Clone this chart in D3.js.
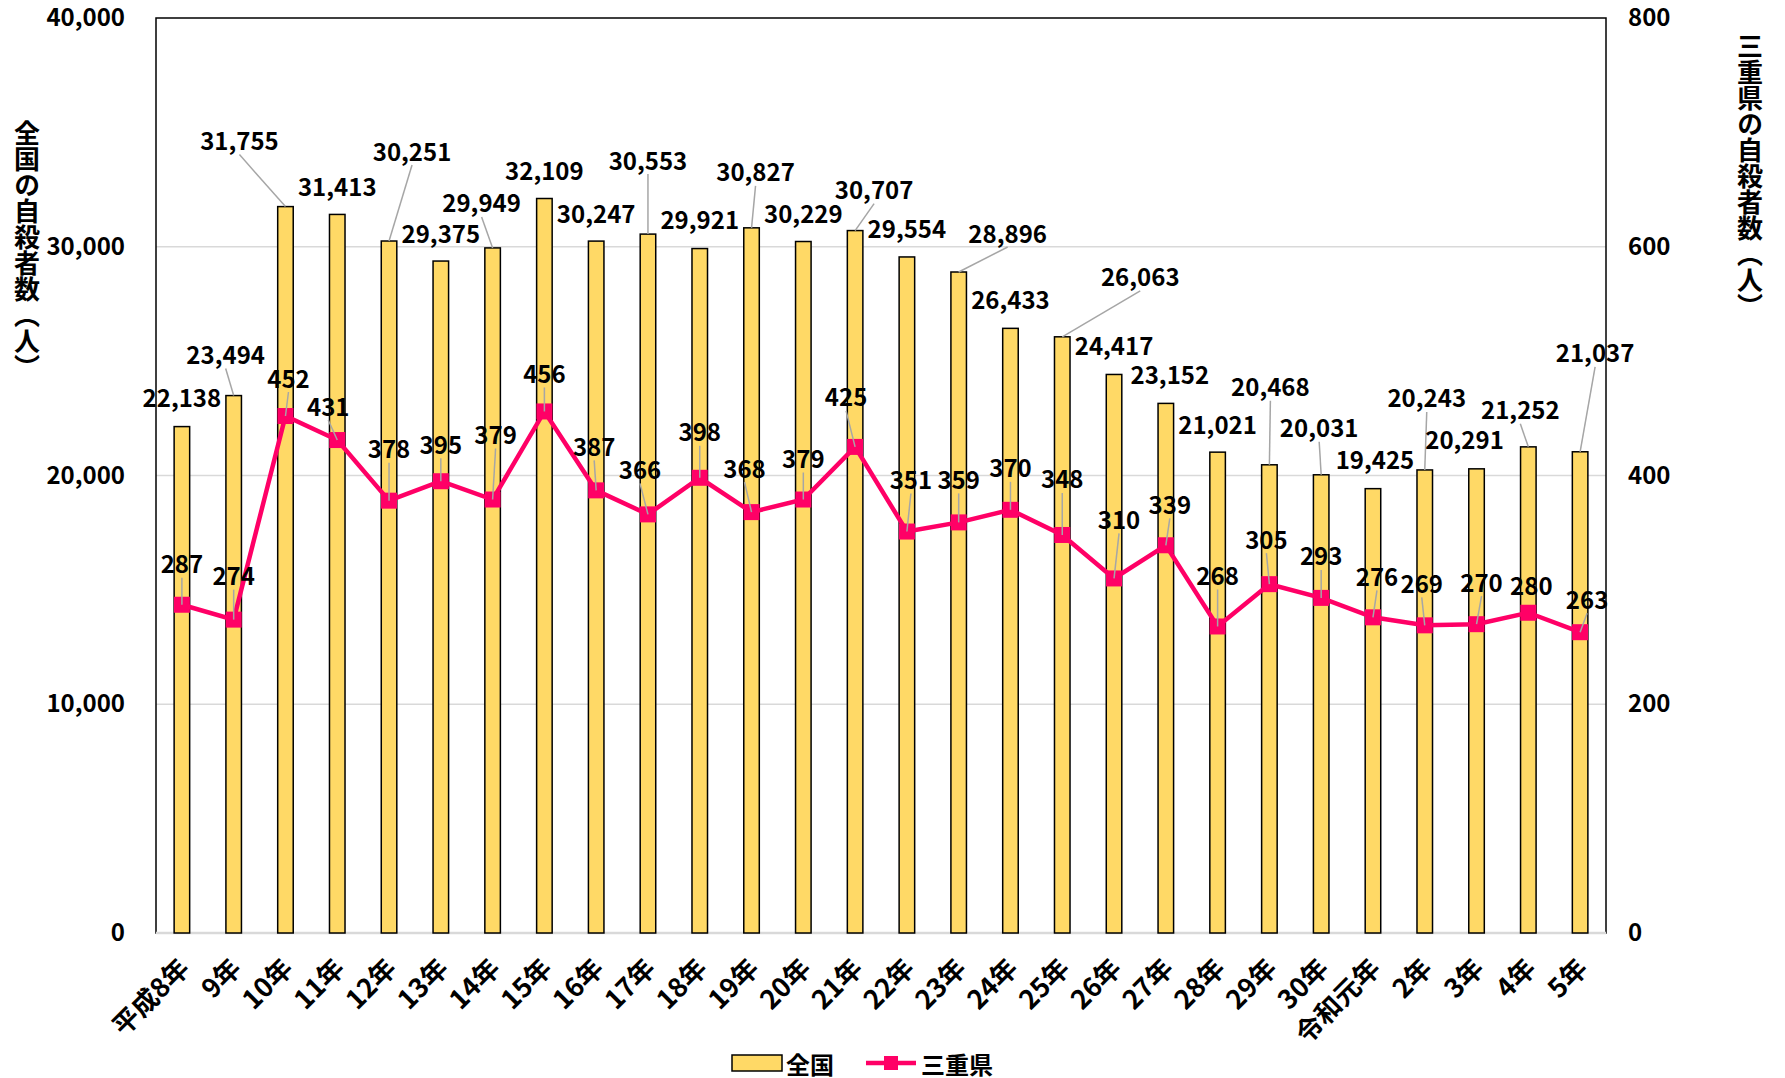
<!DOCTYPE html>
<html>
<head>
<meta charset="utf-8">
<script src="https://cdn.jsdelivr.net/npm/d3@7"></script>
<style>
  body { margin: 0; background: #fff; }
  text { font-family: "Noto Sans CJK JP", sans-serif; font-weight: 700; fill: #000; }
</style>
</head>
<body>
<svg class="chart"></svg>
<script>
var years = ["平成8年","9年","10年","11年","12年","13年","14年","15年","16年","17年","18年","19年","20年","21年",
  "22年","23年","24年","25年","26年","27年","28年","29年","30年","令和元年","2年","3年","4年","5年"];
var zenkoku = [22138,23494,31755,31413,30251,29375,29949,32109,30247,30553,29921,30827,30229,30707,
  29554,28896,26433,26063,24417,23152,21021,20468,20031,19425,20243,20291,21252,21037];
var mie = [287,274,452,431,378,395,379,456,387,366,398,368,379,425,
  351,359,370,348,310,339,268,305,293,276,269,270,280,263];
var leftTicks = [0,10000,20000,30000,40000];
var rightTicks = [0,200,400,600,800];

// label nudges (px) so the data labels sit where they are in the original
var barDx = [0,-8,-46,0,23,0,-11,0,0,0,0,4,0,19,0,49,0,78,0,4,0,1,-2,2,2,-12,-8,15];
var barDy = [-30,-42,-67,-29,-91,-29,-46,-29,-29,-75,-30,-57,-29,-42,-29,-40,-30,-61,-30,-30,-29,-79,-48,-30,-73,-30,-38,-100];
var lineDx = [0,0,3,-9,0,0,3,0,-2,-8,0,-7,0,-9,4,0,0,0,5,4,0,-3,0,4,-3,5,3,7];
var lineDy = [-42,-45,-39,-35,-53,-38,-66,-39,-45,-46,-47,-45,-42,-51,-53,-44,-43,-57,-60,-42,-52,-46,-43,-42,-43,-43,-28,-34];

var width = 1785, height = 1078;
var pl = 156, pr = 1606, pt = 18, pb = 933;
var svg = d3.select(".chart").attr("width", width).attr("height", height);

var x = d3.scaleBand().domain(years).range([pl, pr]).paddingInner(0.7).paddingOuter(0.35);
var y1 = d3.scaleLinear().domain([0, 40000]).range([pb, pt]);
var y2 = d3.scaleLinear().domain([0, 800]).range([pb, pt]);
function cx(i) { return x(years[i]) + x.bandwidth() / 2; }

// grid
svg.append("g").selectAll("line").data([10000,20000,30000]).enter().append("line")
  .attr("x1", pl).attr("x2", pr)
  .attr("y1", function(d){ return y1(d); }).attr("y2", function(d){ return y1(d); })
  .attr("stroke", "#d9d9d9").attr("stroke-width", 1.5);

svg.append("rect").attr("x", pl).attr("y", pt).attr("width", pr - pl).attr("height", pb - pt)
  .attr("fill", "none").attr("stroke", "#000").attr("stroke-width", 1.5);
svg.append("line").attr("x1", pl).attr("x2", pr).attr("y1", pb).attr("y2", pb)
  .attr("stroke", "#d9d9d9").attr("stroke-width", 2.5);

// axes
var la = svg.append("g").attr("transform", "translate(" + pl + ",0)")
  .call(d3.axisLeft(y1).tickValues(leftTicks).tickFormat(d3.format(",")).tickSize(0).tickPadding(31));
var ra = svg.append("g").attr("transform", "translate(" + pr + ",0)")
  .call(d3.axisRight(y2).tickValues(rightTicks).tickSize(0).tickPadding(22));
[la, ra].forEach(function(g){
  g.select(".domain").remove();
  g.selectAll("text").attr("font-size", 24).attr("font-family", null);
});

var xa = svg.append("g").attr("transform", "translate(0," + pb + ")")
  .call(d3.axisBottom(x).tickSize(0).tickPadding(0));
xa.select(".domain").remove();
xa.selectAll("text")
  .attr("font-size", 26.5).attr("font-family", null)
  .attr("text-anchor", "end")
  .attr("transform", "translate(-5,23) rotate(-45)")
  .attr("x", 0).attr("y", 0).attr("dy", "0.75em");

// bars
svg.append("g").selectAll("rect").data(zenkoku).enter().append("rect")
  .attr("x", function(d, i){ return x(years[i]); })
  .attr("y", function(d){ return y1(d); })
  .attr("width", x.bandwidth())
  .attr("height", function(d){ return pb - y1(d); })
  .attr("fill", "#ffd966").attr("stroke", "#000").attr("stroke-width", 1.5);

// line
var line = d3.line().x(function(d, i){ return cx(i); }).y(function(d){ return y2(d); });
svg.append("path").datum(mie).attr("d", line)
  .attr("fill", "none").attr("stroke", "#ff0066").attr("stroke-width", 4.5);
svg.append("g").selectAll("rect").data(mie).enter().append("rect")
  .attr("x", function(d, i){ return cx(i) - 8; })
  .attr("y", function(d){ return y2(d) - 8; })
  .attr("width", 16).attr("height", 16).attr("fill", "#ff0066");

// data labels with leader lines
function labels(vals, ys, dx, dy, fmt) {
  var g = svg.append("g");
  vals.forEach(function(v, i){
    var ax = cx(i), ay = ys(v);
    var lx = ax + dx[i], ly = ay + dy[i];
    if (Math.sqrt(dx[i]*dx[i] + dy[i]*dy[i]) > 33) {
      g.append("line").attr("x1", lx).attr("y1", ly + 15).attr("x2", ax).attr("y2", ay)
        .attr("stroke", "#a6a6a6").attr("stroke-width", 1.5);
    }
    g.append("text").attr("x", lx).attr("y", ly)
      .attr("text-anchor", "middle").attr("dominant-baseline", "central")
      .attr("font-size", 24).text(fmt(v));
  });
}
labels(zenkoku, y1, barDx, barDy, d3.format(","));
labels(mie, y2, lineDx, lineDy, String);

// axis titles
svg.append("text").attr("x", 27).attr("y", 250)
  .attr("text-anchor", "middle").attr("font-size", 26)
  .style("writing-mode", "vertical-rl").style("text-orientation", "upright")
  .text("全国の自殺者数（人）");
svg.append("text").attr("x", 1750).attr("y", 176)
  .attr("text-anchor", "middle").attr("font-size", 26)
  .style("writing-mode", "vertical-rl").style("text-orientation", "upright")
  .text("三重県の自殺者数（人）");

// legend
var lg = svg.append("g");
lg.append("rect").attr("x", 732).attr("y", 1055).attr("width", 50).attr("height", 16)
  .attr("fill", "#ffd966").attr("stroke", "#000").attr("stroke-width", 1.5);
lg.append("text").attr("x", 786).attr("y", 1063).attr("dominant-baseline", "central")
  .attr("font-size", 24).text("全国");
lg.append("line").attr("x1", 866).attr("x2", 916).attr("y1", 1063).attr("y2", 1063)
  .attr("stroke", "#ff0066").attr("stroke-width", 4.5);
lg.append("rect").attr("x", 884).attr("y", 1056).attr("width", 14).attr("height", 14).attr("fill", "#ff0066");
lg.append("text").attr("x", 921).attr("y", 1063).attr("dominant-baseline", "central")
  .attr("font-size", 24).text("三重県");
</script>
</body>
</html>
